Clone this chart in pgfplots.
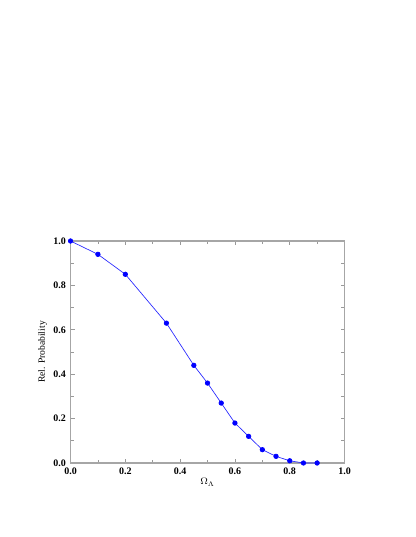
\documentclass[border=0pt]{standalone}
\usepackage{pgfplots}
\pgfplotsset{compat=1.18}
\usepackage{fontspec}
\setmainfont{Liberation Serif}

\begin{document}
\begin{tikzpicture}
\begin{axis}[
    name=ax,
    at={(0,0)}, anchor=south west,
    scale only axis,
    width=205.5pt, height=166.5pt,
    xmin=0, xmax=1, ymin=0, ymax=1,
    xtick={0,0.2,...,1.0}, ytick={0,0.2,...,1.0},
    minor xtick={0.1,0.3,...,0.9}, minor ytick={0.1,0.3,...,0.9},
    tick align=inside,
    major tick length=3pt, minor tick length=2.5pt,
    axis line style={gray!70, line width=0.8pt},
    every tick/.style={gray!80, line width=0.6pt},
    /pgf/number format/fixed, /pgf/number format/fixed zerofill,
    /pgf/number format/precision=1,
    /pgf/number format/assume math mode=true,
    tick label style={font=\fontsize{7.5}{9}\selectfont\bfseries},
    label style={font=\fontsize{7.2}{9}\selectfont},
    xlabel={$\Omega_\Lambda$},
    ylabel={Rel. Probability},
    xlabel style={yshift=4pt},
    ylabel style={yshift=-2pt},
]
\addplot[blue!85!white, line width=0.5pt, mark=*, mark size=1.7pt, mark options={fill=blue, draw=blue}]
coordinates {
(0.00,1.00) (0.10,0.94) (0.20,0.85) (0.35,0.63) (0.45,0.44) (0.50,0.36)
(0.55,0.27) (0.60,0.18) (0.65,0.12) (0.70,0.06) (0.75,0.03) (0.80,0.01)
(0.85,0.00) (0.90,0.00)
};
\end{axis}
\path[use as bounding box] ([shift={(-52.9pt,-55.5pt)}]ax.south west)
    rectangle ([shift={(258.4pt,347.25pt)}]ax.south west);
\end{tikzpicture}
\end{document}
